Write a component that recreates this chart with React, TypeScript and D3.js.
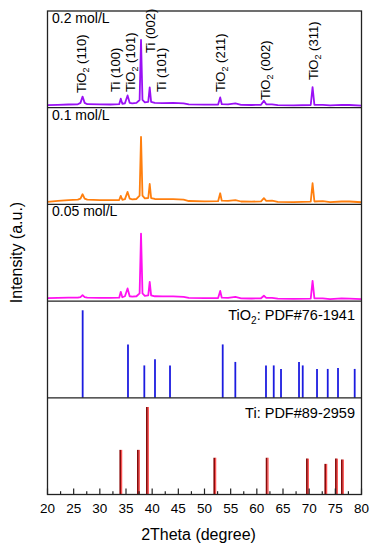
import React from "react";
import * as d3 from "d3";

// XRD patterns: [2theta, intensity (a.u.)]
const pattern02: [number, number][] = [
  [20, 2.6], [22, 3.0], [24, 3.3], [25.8, 3.5], [26.3, 5], [26.7, 11.5], [27.1, 5], [27.6, 3.6],
  [30, 3.4], [32, 3.3], [33.7, 3.6], [34.0, 9.3], [34.3, 4.0], [34.8, 4.6], [35.3, 12.7], [35.7, 5],
  [36.2, 4.5], [37.0, 5.0], [37.6, 8], [37.87, 70], [38.15, 8], [38.6, 5.5], [39.25, 6], [39.53, 21],
  [39.8, 6], [40.5, 5.0], [42, 4.8], [44, 4.9], [46, 4.5], [47, 3.4], [50, 3.1], [52.6, 3.2],
  [53.0, 10.6], [53.3, 3.6], [54.5, 3.5], [55.9, 4.5], [57, 3.0], [59, 2.8], [60.8, 3.0], [61.35, 7.2],
  [61.8, 3.5], [62.9, 3.5], [64, 2.7], [67, 2.5], [70.3, 2.8], [70.65, 21.3], [71.0, 3.0], [72.6, 3.0],
  [74, 2.3], [76.2, 3.0], [77.7, 2.8], [80, 2.2],
];
const pattern01: [number, number][] = [
  [20, 2.7], [22, 3.6], [24, 4.5], [25.8, 5.0], [26.3, 6.0], [26.7, 10.5], [27.1, 6.0], [27.6, 4.9],
  [30, 4.5], [32, 4.4], [33.7, 4.5], [34.0, 8.8], [34.3, 4.8], [34.8, 5.4], [35.3, 12.9], [35.7, 6.0],
  [36.2, 5.3], [37.0, 5.6], [37.6, 9], [37.87, 69.9], [38.15, 9], [38.6, 6.2], [39.25, 6.6], [39.53, 21.1],
  [39.8, 6.6], [40.5, 5.6], [42, 5.4], [44, 5.5], [46, 5.0], [47, 3.5], [50, 3.2], [52.6, 3.3],
  [53.0, 11.5], [53.3, 3.8], [54.5, 3.6], [55.9, 4.5], [57, 3.0], [59, 2.9], [60.8, 3.1], [61.35, 6.4],
  [61.8, 3.6], [62.9, 3.8], [64, 2.7], [67, 2.4], [70.3, 2.8], [70.65, 21.9], [71.0, 3.0], [72.6, 3.3],
  [74, 2.3], [76.2, 3.0], [77.7, 3.0], [80, 2.2],
];
const pattern005: [number, number][] = [
  [20, 3.0], [22, 3.3], [24, 3.5], [25.8, 3.6], [26.3, 4.2], [26.7, 6.2], [27.1, 4.2], [27.6, 3.6],
  [30, 3.4], [32, 3.3], [33.7, 3.5], [34.0, 9.6], [34.3, 4.0], [34.8, 5.0], [35.3, 13.1], [35.7, 5.0],
  [36.2, 4.6], [37.0, 5.0], [37.6, 8], [37.87, 69.8], [38.15, 8], [38.6, 5.5], [39.25, 6], [39.53, 19.9],
  [39.8, 6], [40.5, 5.0], [42, 4.8], [44, 4.8], [46, 4.4], [47, 3.3], [50, 3.0], [52.6, 3.1],
  [53.0, 10.5], [53.3, 3.5], [54.5, 3.4], [55.9, 4.3], [57, 2.9], [59, 2.7], [60.8, 2.9], [61.35, 5.5],
  [61.8, 3.3], [62.9, 3.4], [64, 2.5], [67, 2.3], [70.3, 2.6], [70.65, 20.9], [71.0, 2.8], [72.6, 2.9],
  [74, 2.1], [76.2, 2.8], [77.7, 2.6], [80, 2.1],
];

// reference cards
const tio2Pos = [26.72, 35.38, 38.5, 40.54, 43.41, 53.48, 55.89, 61.75, 63.23, 64.62, 68.06, 68.77, 71.5, 73.55, 75.51, 78.7];
const tio2Int = [100, 61, 37, 44, 37, 61, 41, 37, 37, 33, 41, 37, 33, 33, 34, 33];
const tiPos = [33.99, 37.35, 39.07, 51.95, 61.95, 69.65, 73.16, 75.19, 76.33];
const tiInt = [51, 51, 100, 42, 42, 41, 35, 41, 40];

const sampleNames = ["0.2 mol/L", "0.1 mol/L", "0.05 mol/L"];
const sampleColors = ["#9a10f5", "#ff7f0e", "#ff10f0"];

// peak labels in the top panel: [text, 2theta of text baseline, start y, is TiO2]
const peakLabels: [string, number, number, boolean][] = [
  ["(110)", 27.3, 93, true],
  ["Ti (100)", 33.85, 92, false],
  ["(101)", 36.7, 92, true],
  ["Ti (002)", 40.5, 53, false],
  ["Ti (101)", 42.6, 92, false],
  ["(211)", 53.9, 92, true],
  ["(002)", 62.5, 100, true],
  ["(311)", 71.65, 80, true],
];

const xTicks = d3.range(20, 81, 5);
const xMinor = d3.range(22.5, 80, 5);

const W = 377;
const H = 550;
const left = 47.5;
const right = 361.5;
const top = 11;
const bottom = 494.5;
const font = "'Liberation Sans', Arial, sans-serif";

export default function App() {
  const x = d3.scaleLinear().domain([20, 80]).range([left, right]);
  const ph = (bottom - top) / 5;
  const panelTop = (i: number) => top + i * ph;
  const yPanel = (i: number) =>
    d3.scaleLinear().domain([0, 100]).range([panelTop(i) + ph, panelTop(i)]);
  const yCard = (i: number) =>
    d3.scaleLinear().domain([0, 110.5]).range([panelTop(i) + ph, panelTop(i)]);

  const patterns = [pattern02, pattern01, pattern005];

  return (
    <svg
      width={W}
      height={H}
      style={{ position: "absolute", left: 0, top: 0, background: "#fff" }}
      fontFamily={font}
    >
      {patterns.map((p, i) => {
        const y = yPanel(i);
        const line = d3
          .line<[number, number]>()
          .x((d) => x(d[0]))
          .y((d) => y(d[1]));
        return (
          <g key={i}>
            <path d={line(p) || ""} fill="none" stroke={sampleColors[i]} strokeWidth={1.8} strokeLinejoin="round" />
            <text x={52} y={panelTop(i) + 12} fontSize={14}>
              {sampleNames[i]}
            </text>
          </g>
        );
      })}

      {/* TiO2 card */}
      {tio2Pos.map((p, j) => (
        <line key={"a" + j} x1={x(p)} x2={x(p)} y1={yCard(3)(0)} y2={yCard(3)(tio2Int[j])} stroke="#1c1ce0" strokeWidth={1.8} />
      ))}
      <text x={355} y={320} fontSize={14.5} textAnchor="end">
        TiO<tspan dy={3.5} fontSize={10}>2</tspan>
        <tspan dy={-3.5}>: PDF#76-1941</tspan>
      </text>

      {/* Ti card */}
      {tiPos.map((p, j) => (
        <g key={"b" + j}>
          <line x1={x(p) - 0.4} x2={x(p) - 0.4} y1={yCard(4)(0)} y2={yCard(4)(tiInt[j])} stroke="#8a0a0a" strokeWidth={1.8} />
          <line x1={x(p) + 1.0} x2={x(p) + 1.0} y1={yCard(4)(0)} y2={yCard(4)(tiInt[j])} stroke="#ff3535" strokeWidth={1} />
        </g>
      ))}
      <text x={355} y={418} fontSize={14.5} textAnchor="end">
        Ti: PDF#89-2959
      </text>

      {/* peak labels */}
      {peakLabels.map(([t, d, y0, ox], k) => (
        <text key={"l" + k} transform={`translate(${x(d)},${y0}) rotate(-90)`} fontSize={13}>
          {ox ? (
            <>
              TiO<tspan dy={3} fontSize={9}>2</tspan>
              <tspan dy={-3}> {t}</tspan>
            </>
          ) : (
            t
          )}
        </text>
      ))}

      {/* panel separators and frame */}
      {[1, 2, 3, 4].map((i) => (
        <line key={"s" + i} x1={left} x2={right} y1={panelTop(i)} y2={panelTop(i)} stroke="#222" strokeWidth={1.2} />
      ))}
      <rect x={left} y={top} width={right - left} height={bottom - top} fill="none" stroke="#222" strokeWidth={1.3} />

      {/* bottom axis */}
      {xTicks.map((t) => (
        <g key={"t" + t}>
          <line x1={x(t)} x2={x(t)} y1={bottom} y2={bottom - 6} stroke="#222" strokeWidth={1.2} />
          <text x={x(t)} y={513} fontSize={13.5} textAnchor="middle">
            {t}
          </text>
        </g>
      ))}
      {xMinor.map((t) => (
        <line key={"m" + t} x1={x(t)} x2={x(t)} y1={bottom} y2={bottom - 3.3} stroke="#222" strokeWidth={1.2} />
      ))}
      <text x={198.5} y={540} fontSize={16} textAnchor="middle">
        2Theta (degree)
      </text>
      <text transform={`translate(22,252.5) rotate(-90)`} fontSize={16} textAnchor="middle">
        Intensity (a.u.)
      </text>
    </svg>
  );
}
